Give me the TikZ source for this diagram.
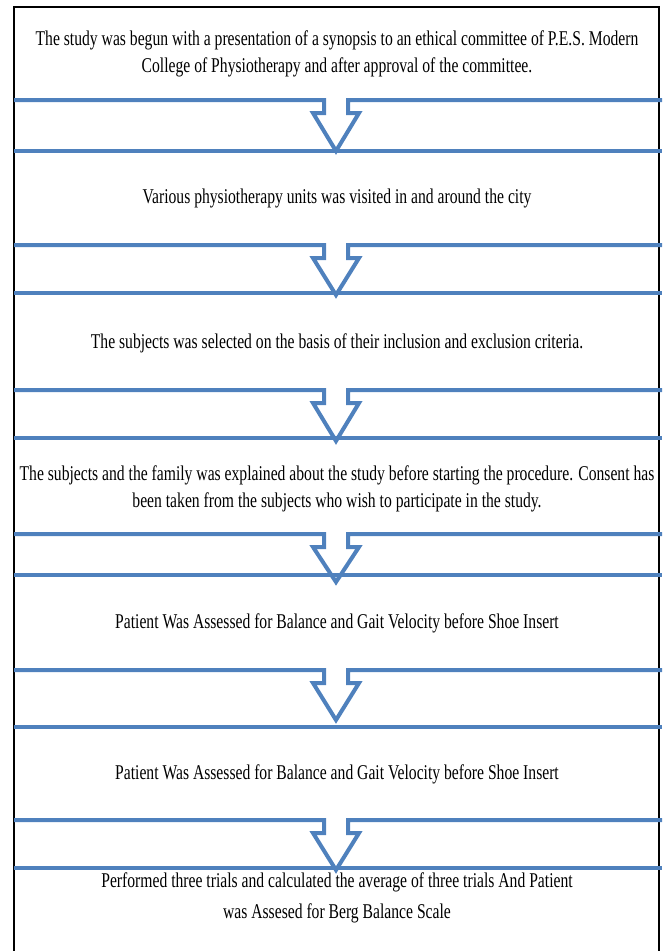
\documentclass[tikz,border=0pt]{standalone}
\usepackage{fontspec}
\setmainfont[FakeStretch=0.745]{Liberation Serif}
\usepackage{xcolor}
\definecolor{bandblue}{HTML}{4F81BD}

\begin{document}
\begin{tikzpicture}[x=1pt,y=-1pt,
  stage/.style={align=center, inner sep=0pt, font=\fontsize{21}{27}\selectfont},
  band/.style={line width=4pt, draw=bandblue, line join=miter}]
\useasboundingbox (0,0) rectangle (663,951);
\draw [line width=2pt] (14,951) -- (14,7) -- (659,7) -- (659,951);

% stages
\node [stage] (synopsis) at (337,54) {The study was begun with a presentation of a synopsis to an ethical committee of P.E.S. Modern\\College of Physiotherapy and after approval of the committee.};
\node [stage] (visit) at (337,198) {Various physiotherapy units was visited in and around the city};
\node [stage] (select) at (337,343) {The subjects was selected on the basis of their inclusion and exclusion criteria.};
\node [stage] (consent) at (337,489) {The subjects and the family was explained about the study before starting the procedure. Consent has\\been taken from the subjects who wish to participate in the study.};
\node [stage] (assess1) at (337,623) {Patient Was Assessed for Balance and Gait Velocity before Shoe Insert};
\node [stage] (assess2) at (337,774) {Patient Was Assessed for Balance and Gait Velocity before Shoe Insert};
\node [stage, font=\fontsize{21}{31}\selectfont] (trials) at (337,898) {Performed three trials and calculated the average of three trials And Patient\\was Assesed for Berg Balance Scale};

% bands with arrows
\draw [band] (14,100) -- (324,100) -- (324,113) -- (313,113) -- (336,151) -- (359,113) -- (348,113) -- (348,100) -- (662,100);
\draw [band] (14,151) -- (662,151);

\draw [band] (14,245) -- (324,245) -- (324,258) -- (313,258) -- (336,295) -- (359,258) -- (348,258) -- (348,245) -- (662,245);
\draw [band] (14,293) -- (662,293);

\draw [band] (14,390) -- (324,390) -- (324,403) -- (313,403) -- (336,441) -- (359,403) -- (348,403) -- (348,390) -- (662,390);
\draw [band] (14,438) -- (662,438);

\draw [band] (14,534) -- (324,534) -- (324,547) -- (313,547) -- (336,582) -- (359,547) -- (348,547) -- (348,534) -- (662,534);
\draw [band] (14,575) -- (662,575);

\draw [band] (14,670) -- (324,670) -- (324,683) -- (313,683) -- (336,720) -- (359,683) -- (348,683) -- (348,670) -- (662,670);
\draw [band] (14,727) -- (662,727);

\draw [band] (14,820) -- (324,820) -- (324,833) -- (313,833) -- (336,870) -- (359,833) -- (348,833) -- (348,820) -- (662,820);
\draw [band] (14,868) -- (662,868);

\end{tikzpicture}
\end{document}
